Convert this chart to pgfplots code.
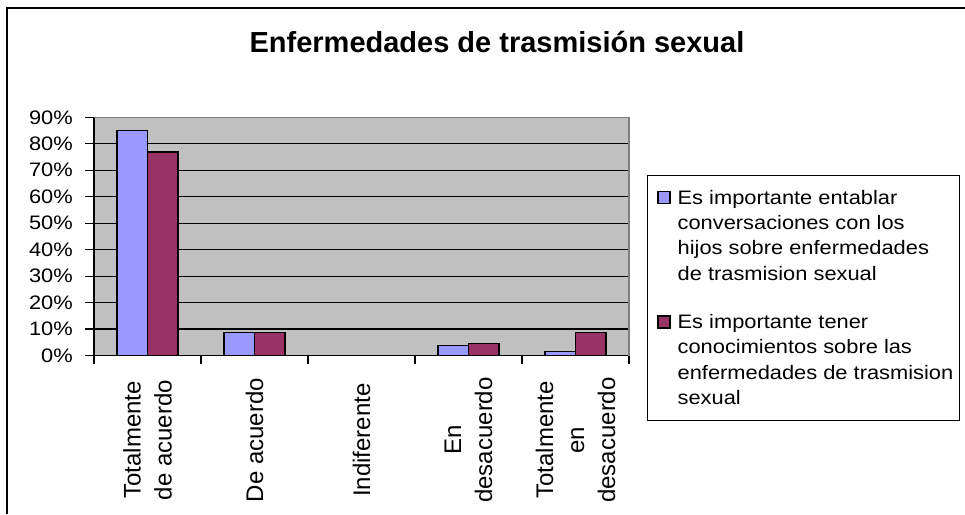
\documentclass[border=0pt]{standalone}
\usepackage{pgfplots}
\pgfplotsset{compat=1.18}
\usepackage{fontspec}
\setmainfont{Liberation Sans}
\newfontfamily\legfont[FakeStretch=1.12]{Liberation Sans}
\definecolor{barA}{HTML}{9999FF}
\definecolor{barB}{HTML}{993366}
\definecolor{plotbg}{HTML}{C0C0C0}
\begin{document}
\begin{tikzpicture}[x=1pt,y=1pt]
\useasboundingbox (0,0) rectangle (965,514);
\fill[white] (0,0) rectangle (965,514);
\draw[line width=1.6pt] (7,0) -- (7,506) -- (965,506);
\begin{axis}[
  at={(94pt,158.5pt)}, anchor=south west,
  scale only axis, width=535pt, height=238.2pt,
  xmin=-0.5, xmax=4.5, ymin=0, ymax=90,
  ybar=0pt, bar width=0.2857,
  axis background/.style={fill=plotbg},
  axis x line*=bottom, axis y line*=left,
  axis line style={-, line width=1.2pt, black},
  ytick={0,10,...,90},
  yticklabels={0\%,10\%,20\%,30\%,40\%,50\%,60\%,70\%,80\%,90\%},
  ytick pos=left, xtick pos=bottom,
  ymajorgrids, grid style={black, line width=1.2pt},
  xtick={0,1,2,3,4},
  xticklabels={{Totalmente\\de acuerdo},{De acuerdo},{Indiferente},{En\\desacuerdo},{Totalmente\\en\\desacuerdo}},
  minor xtick={-0.5,0.5,1.5,2.5,3.5,4.5},
  tick align=outside,
  major tick length=9pt, minor tick length=8.5pt,
  tick style={black, line width=1.2pt},
  major x tick style={draw=none},
  xticklabel style={yshift=-75.5pt, rotate=90, anchor=center, align=center, inner sep=0pt, font=\fontsize{24}{31}\selectfont},
  yticklabel style={anchor=east, inner sep=0pt, xshift=-12pt, font=\legfont\fontsize{19.5}{23}\selectfont},
  title={Enfermedades de trasmisión sexual},
  title style={at={(0.7533,1.246)}, anchor=base, inner sep=0pt, font=\bfseries\fontsize{29}{34}\selectfont},
  legend style={at={(1.0336,0.7578)}, anchor=north west, draw=black, line width=1pt, fill=white,
    inner xsep=4pt, inner ysep=12.5pt, row sep=28.8pt, column sep=5pt,
    font=\legfont\fontsize{19.5}{25.3}\selectfont, nodes={inner sep=2pt, align=left}},
  legend cell align=left,
  sqleg/.style={legend image code/.code={\path (0pt,-44pt) (0pt,44pt) (18pt,0pt); \draw[##1] (6pt,32pt) rectangle (18pt,44pt);}},
  after end axis/.code={\draw[gray, line width=1.2pt] (rel axis cs:0,1) -- (rel axis cs:1,1) -- (rel axis cs:1,0);},
]
\addplot[fill=barA, draw=black, line width=1.2pt, sqleg] coordinates {(0,85.1) (1,8.8) (2,0) (3,3.7) (4,1.6)};
\addlegendentry{Es importante entablar\\conversaciones con los\\hijos sobre enfermedades\\de trasmision sexual}
\addplot[fill=barB, draw=black, line width=1.2pt, sqleg] coordinates {(0,76.9) (1,8.8) (2,0) (3,4.4) (4,8.7)};
\addlegendentry{Es importante tener\\conocimientos sobre las\\enfermedades de trasmision\\sexual}
\end{axis}
\end{tikzpicture}
\end{document}
